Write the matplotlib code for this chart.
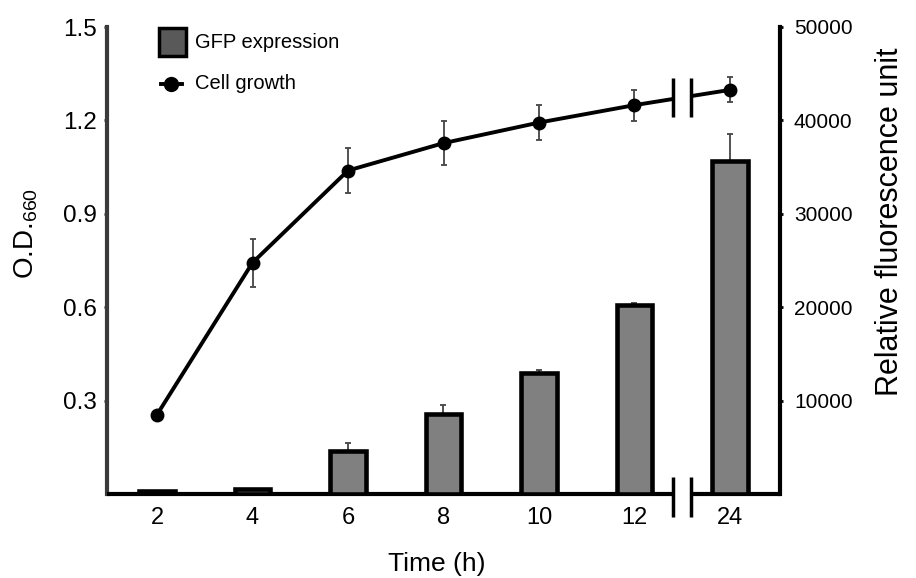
import numpy as np
import matplotlib
matplotlib.use("Agg")
import matplotlib.pyplot as plt
from matplotlib.patches import Rectangle
from matplotlib.lines import Line2D

plt.rcParams['font.family'] = ['Liberation Sans', 'DejaVu Sans']
plt.rcParams['mathtext.fontset'] = 'custom'
plt.rcParams['mathtext.rm'] = 'Liberation Sans'
plt.rcParams['mathtext.it'] = 'Liberation Sans'

# ---- data ----
time_labels = ['2', '4', '6', '8', '10', '12', '24']
od_values = [0.255, 0.743, 1.039, 1.127, 1.193, 1.249, 1.298]
od_err = [0.0, 0.077, 0.072, 0.071, 0.056, 0.050, 0.040]
gfp_values = [300, 500, 4600, 8550, 12960, 20270, 35600]
gfp_err = [0, 0, 900, 950, 300, 200, 2900]
od_ticks = [0.3, 0.6, 0.9, 1.2, 1.5]
rfu_ticks = [10000, 20000, 30000, 40000, 50000]

x = np.arange(len(time_labels))

fig = plt.figure(figsize=(9.16, 5.78), dpi=100)
ax = fig.add_axes([107/916, 1-494/578, 673/916, 467/578])
ax2 = ax.twinx()

xlim = (-0.524, 6.524)
ax.set_xlim(*xlim)
ax.set_ylim(0, 1.5)
ax2.set_ylim(0, 50000)

# bars (right axis)
ax2.errorbar(x, gfp_values, yerr=gfp_err, fmt='none', ecolor='#444444',
             elinewidth=1.3, capsize=2.5, capthick=1.3, zorder=1)
ax2.bar(x, gfp_values, width=0.375, color='#808080', edgecolor='black',
        linewidth=3.3, zorder=2)

# line (left axis)
ax.errorbar(x, od_values, yerr=od_err, fmt='none', ecolor='#444444',
            elinewidth=1.3, capsize=2.5, capthick=1.3, zorder=2)
ax.plot(x, od_values, color='black', lw=2.8, marker='o', markersize=9,
        zorder=3)

# axis break
bc = (x[5] + x[6]) / 2
g = 0.095
yc = (od_values[5] + od_values[6]) / 2
ax.add_patch(Rectangle((bc - g, yc - 0.04), 2*g, 0.08, facecolor='white',
                       edgecolor='none', zorder=4))
for xb in (bc - g, bc + g):
    ax.plot([xb, xb], [yc - 0.064, yc + 0.064], color='black', lw=2.5,
            zorder=5, solid_capstyle='butt')
    ax.plot([xb, xb], [-0.074, 0.055], color='black', lw=2.5, zorder=5,
            clip_on=False, solid_capstyle='butt')

ax.spines['bottom'].set_visible(False)
span = xlim[1] - xlim[0]
f1 = (bc - g - xlim[0]) / span
f2 = (bc + g - xlim[0]) / span
ax.axhline(0, 0, f1, color='black', lw=3, clip_on=False, zorder=5,
           solid_capstyle='butt')
ax.axhline(0, f2, 1, color='black', lw=3, clip_on=False, zorder=5,
           solid_capstyle='butt')

# spines
for a in (ax, ax2):
    a.spines['top'].set_visible(False)
ax.spines['right'].set_visible(False)
ax2.spines['left'].set_visible(False)
ax2.spines['bottom'].set_visible(False)
ax.spines['left'].set_linewidth(3)
ax.spines['left'].set_color('#3a3a3a')
ax2.spines['right'].set_linewidth(3)
ax2.spines['right'].set_color('black')

ax.set_yticks(od_ticks)
ax.set_yticklabels([f'{t:.1f}' for t in od_ticks])
ax.tick_params(axis='y', length=2, width=2, pad=5, labelsize=17.5,
               color='#3a3a3a')
ax.set_xticks(x)
ax.set_xticklabels(time_labels)
ax.tick_params(axis='x', length=0, pad=9, labelsize=17)
ax2.set_yticks(rfu_ticks)
ax2.set_yticklabels([str(t) for t in rfu_ticks])
ax2.tick_params(axis='y', length=2, width=2, pad=8, labelsize=15)

# labels
fig.text(26/916, 1-233/578, 'O.D.$_{660}$', rotation=90, ha='center',
         va='center', fontsize=20)
fig.text(890/916, 1-222/578, 'Relative fluorescence unit', rotation=90,
         ha='center', va='center', fontsize=22)
fig.text(437/916, 1-564/578, 'Time (h)', ha='center', va='center',
         fontsize=19)

# legend (manual)
tr = ax.transAxes
ax.add_patch(Rectangle((0.0775, 0.938), 0.040, 0.060, facecolor='#595959',
                       edgecolor='black', lw=2.5, transform=tr,
                       clip_on=False, zorder=6))
ax.text(0.131, 0.966, 'GFP expression', transform=tr, fontsize=14.5,
        va='center', ha='left')
ax.add_line(Line2D([0.080, 0.111], [0.878, 0.878], color='black', lw=2.8,
                   marker=None, transform=tr, clip_on=False))
ax.add_line(Line2D([0.0955], [0.878], color='black', marker='o',
                   markersize=10, transform=tr, clip_on=False))
ax.text(0.131, 0.878, 'Cell growth', transform=tr, fontsize=14.5,
        va='center', ha='left')

fig.savefig('out.png', dpi=100)
